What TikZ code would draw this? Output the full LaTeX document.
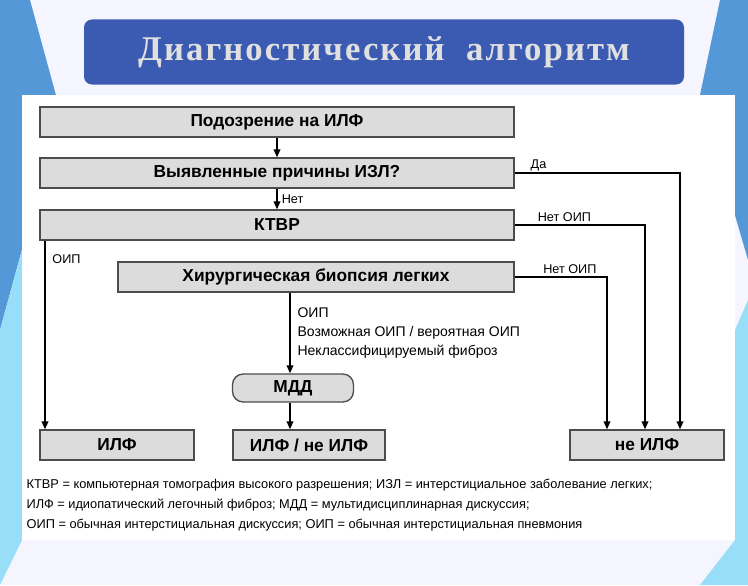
\documentclass[tikz,border=0pt]{standalone}
\usepackage{fontspec}
\setmainfont{Liberation Sans}
\newfontfamily\titlefont[LetterSpace=6]{Liberation Serif}
\usetikzlibrary{arrows.meta,positioning,calc}
\definecolor{titleblue}{HTML}{3B5BB3}
\definecolor{boxgray}{HTML}{DCDCDC}
\tikzset{
  stage/.style={draw=black!70,fill=boxgray,line width=1pt,minimum height=30*0.75pt,
    inner sep=0pt,font=\bfseries\fontsize{13}{14}\selectfont},
  flow/.style={line width=1.2pt,-{Triangle[length=6pt,width=5pt]}},
  note/.style={font=\fontsize{9.5}{11}\selectfont,anchor=west,inner sep=1pt}
}
\begin{document}
\begin{tikzpicture}[x=0.75pt,y=-0.75pt]
\useasboundingbox (0,0) rectangle (748,585);
% background
\fill[blue!4] (0,0) rectangle (748,585);
\fill[cyan!60!blue!70] (0,0) -- (30,0) -- (60,110) -- (0,330) -- cycle;
\fill[cyan!40] (0,330) -- (22,250) -- (22,540) -- (0,585) -- cycle;
\fill[cyan!60!blue!70] (748,0) -- (720,0) -- (700,95) -- (748,260) -- cycle;
\fill[cyan!40] (748,300) -- (735,330) -- (735,540) -- (700,585) -- (748,585) -- cycle;
\fill[white] (22,95) rectangle (735,540);
% title
\node[fill=titleblue,rounded corners=6pt,minimum width=600*0.75pt,minimum height=65*0.75pt,
  text=white!88!black,font=\titlefont\bfseries\fontsize{26}{28}\selectfont] (title) at (384,52)
  {Диагностический \ алгоритм};
% boxes
\node[stage,minimum width=474*0.75pt] (susp) at (277,122) {Подозрение на ИЛФ};
\node[stage,minimum width=474*0.75pt] (cause) at (277,173) {Выявленные причины ИЗЛ?};
\node[stage,minimum width=474*0.75pt] (ktvr) at (277,225) {КТВР};
\node[stage,minimum width=396*0.75pt] (biopsy) at (316,277) {Хирургическая биопсия легких};
\node[stage,rounded corners=8pt,minimum width=121*0.75pt,minimum height=28*0.75pt] (mdd) at (293,388) {МДД};
\node[stage,minimum width=154*0.75pt] (ilf) at (117,445) {ИЛФ};
\node[stage,minimum width=152*0.75pt] (maybe) at (309,445) {ИЛФ / не ИЛФ};
\node[stage,minimum width=154*0.75pt] (notilf) at (647,445) {не ИЛФ};
% connectors
\draw[flow] (susp) -- (cause);
\draw[flow] (cause) -- node[note,right=2pt] {Нет} (ktvr);
\draw[flow] (cause.east) -| node[note,pos=0.05,above right=0pt and -2pt] {Да} (notilf.north east-|680,0);
\draw[flow] (ktvr.east) -| node[note,pos=0.05,above right=1pt and 6pt] {Нет ОИП} (notilf.north east-|645,0);
\draw[flow] (biopsy.east) -| node[note,pos=0.1,above right=1pt and 6pt] {Нет ОИП} (notilf.north west-|607,0);
\draw[flow] (ktvr.south west-|45,0) -- node[note,pos=0.1,right=4pt] {ОИП} (ilf.north west-|45,0);
\draw[flow] (biopsy.south west-|290,0) -- (mdd.north west-|290,0);
\draw[flow] (mdd.south-|290,0) -- (maybe.north-|290,0);
\node[note,align=left,font=\fontsize{10.5}{14.5}\selectfont] (crit) at (296,333)
  {ОИП\\Возможная ОИП / вероятная ОИП\\Неклассифицируемый фиброз};
% legend
\node[note,align=left,font=\fontsize{9.6}{15}\selectfont] (legend) at (25,505)
  {КТВР = компьютерная томография высокого разрешения; ИЗЛ = интерстициальное заболевание легких;\\
   ИЛФ = идиопатический легочный фиброз; МДД = мультидисциплинарная дискуссия;\\
   ОИП = обычная интерстициальная дискуссия; ОИП = обычная интерстициальная пневмония};
\end{tikzpicture}
\end{document}
